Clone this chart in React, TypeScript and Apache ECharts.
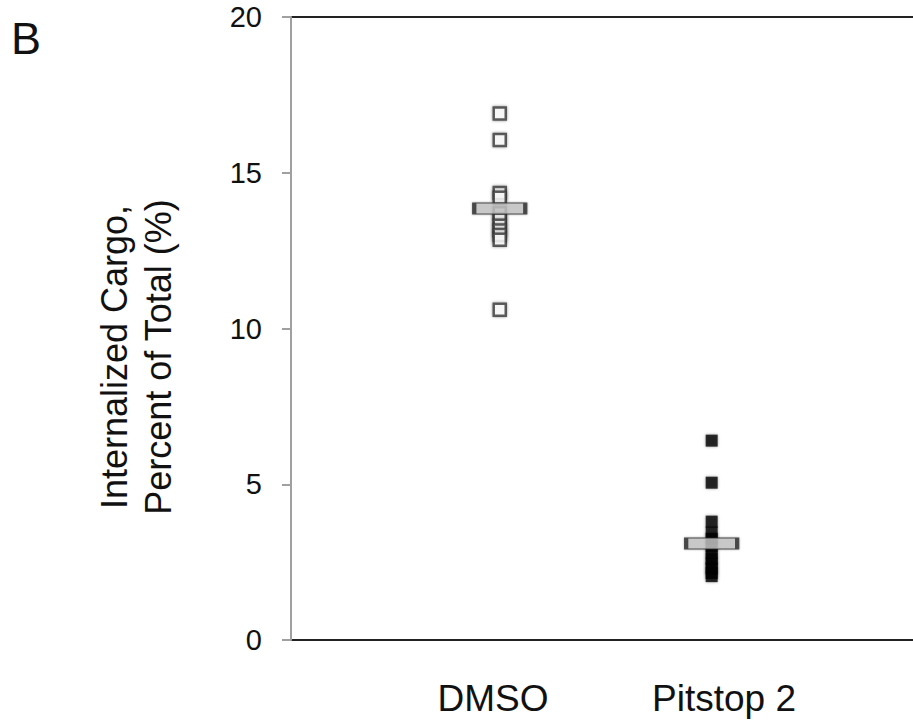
import React, { useEffect, useRef } from "react";
import * as echarts from "echarts";

const categories = ["DMSO", "Pitstop 2"];
const categoryPositions = [1, 2];
const dmsoValues = [16.9, 16.05, 14.35, 14.2, 13.7, 13.5, 13.3, 13.15, 13.0, 12.85, 10.6];
const pitstopValues = [6.4, 5.05, 3.8, 3.45, 3.25, 3.0, 2.8, 2.6, 2.45, 2.3, 2.15, 2.05];
const meanValues = [13.85, 3.1];
const yMin = 0;
const yMax = 20;
const yInterval = 5;
const yTitleLines = ["Internalized Cargo,", "Percent of Total (%)"];
const panelLabel = "B";

const FONT = '"Liberation Sans", Arial, Helvetica, sans-serif';

export default function App() {
  const ref = useRef<HTMLDivElement>(null);
  useEffect(() => {
    if (!ref.current) return;
    const chart = echarts.init(ref.current, null, { renderer: "svg" });
    const option: any = {
      animation: false,
      backgroundColor: "#ffffff",
      grid: { left: 291, right: 0, top: 17, bottom: 85, containLabel: false },
      xAxis: [
        {
          type: "value",
          min: 0.015,
          max: 2.95,
          position: "bottom",
          axisLine: { show: true, lineStyle: { color: "#222", width: 2 } },
          axisTick: { show: false },
          axisLabel: { show: false },
          splitLine: { show: false },
        },
        {
          type: "value",
          min: 0.015,
          max: 2.95,
          position: "top",
          axisLine: { show: true, onZero: false, lineStyle: { color: "#222", width: 2 } },
          axisTick: { show: false },
          axisLabel: { show: false },
          splitLine: { show: false },
        },
      ],
      yAxis: {
        type: "value",
        min: yMin,
        max: yMax,
        interval: yInterval,
        axisLine: { show: true, onZero: false, lineStyle: { color: "#a0a0a0", width: 2 } },
        axisTick: { show: true, length: 9, lineStyle: { color: "#a0a0a0", width: 2 } },
        axisLabel: { fontSize: 29, color: "#111", margin: 29, fontFamily: FONT },
        splitLine: { show: false },
        z: 3,
      },
      series: [
        {
          type: "scatter",
          name: categories[0],
          symbol: "rect",
          symbolSize: 12,
          data: dmsoValues.map((v) => [categoryPositions[0], v]),
          itemStyle: {
            color: "#ffffff",
            borderColor: "#3a3a3a",
            borderWidth: 2.5,
            shadowBlur: 3,
            shadowColor: "rgba(0,0,0,0.5)",
          },
          z: 4,
        },
        {
          type: "scatter",
          name: categories[1],
          symbol: "rect",
          symbolSize: 12,
          data: pitstopValues.map((v) => [categoryPositions[1], v]),
          itemStyle: {
            color: "#000000",
            shadowBlur: 3,
            shadowColor: "rgba(0,0,0,0.45)",
          },
          z: 4,
        },
        {
          type: "scatter",
          name: "Mean",
          symbol: "rect",
          symbolSize: [51, 11],
          data: meanValues.map((v, i) => [categoryPositions[i], v]),
          itemStyle: {
            color: "#c6c6c6",
            borderColor: "#2a2a2a",
            borderWidth: 2,
            shadowBlur: 2,
            shadowColor: "rgba(0,0,0,0.4)",
          },
          z: 5,
        },
      ],
      graphic: [
        {
          type: "text",
          left: 11,
          top: 16,
          style: { text: panelLabel, fontSize: 45, fill: "#111", fontFamily: FONT },
        },
        {
          type: "text",
          x: 136,
          y: 357,
          rotation: Math.PI / 2,
          style: {
            text: yTitleLines.join("\n"),
            fontSize: 36,
            lineHeight: 44,
            fill: "#111",
            fontFamily: FONT,
            align: "center",
            verticalAlign: "middle",
          },
        },
        {
          type: "text",
          x: 493,
          y: 698,
          style: {
            text: categories[0],
            fontSize: 37,
            fill: "#111",
            fontFamily: FONT,
            align: "center",
            verticalAlign: "middle",
          },
        },
        {
          type: "text",
          x: 724,
          y: 698,
          style: {
            text: categories[1],
            fontSize: 37,
            fill: "#111",
            fontFamily: FONT,
            align: "center",
            verticalAlign: "middle",
          },
        },
      ],
    };
    chart.setOption(option);
    return () => chart.dispose();
  }, []);
  return <div ref={ref} style={{ width: 913, height: 725, position: "absolute", left: 0, top: 0 }} />;
}
